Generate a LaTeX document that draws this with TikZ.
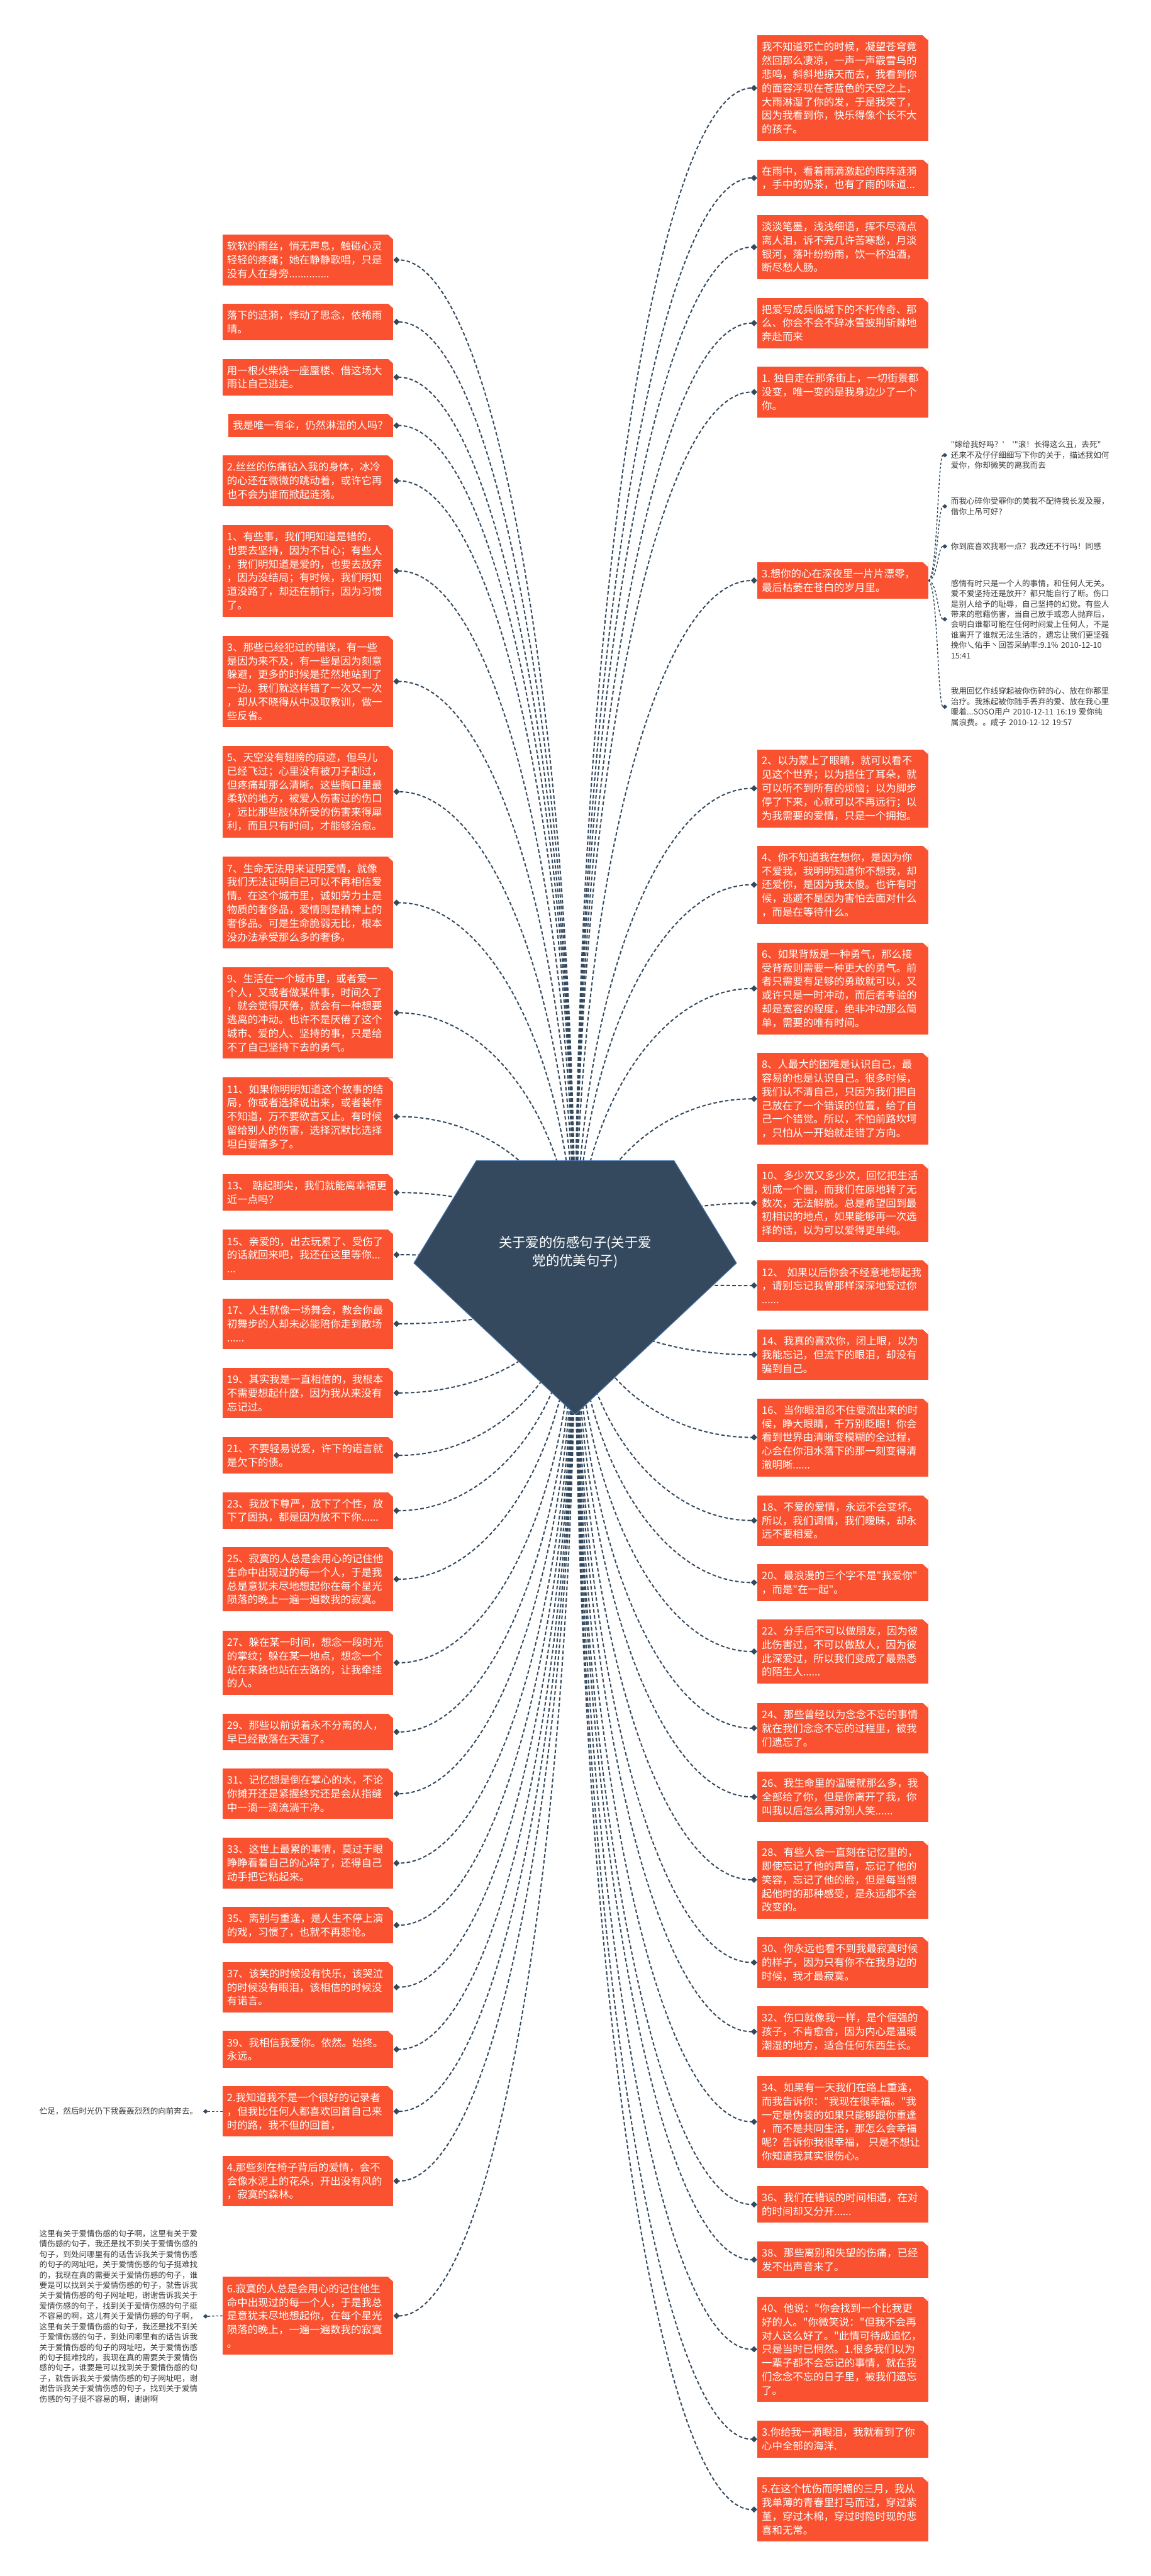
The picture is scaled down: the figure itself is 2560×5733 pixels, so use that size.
\documentclass[tikz,border=0pt]{standalone}
\usepackage{fontspec}
\newfontfamily\cjk{Noto Sans CJK SC}
\usetikzlibrary{arrows.meta,calc}
\pgfdeclarelayer{back}
\pgfsetlayers{back,main}
\definecolor{boxC}{HTML}{FA5230}
\definecolor{lineC}{HTML}{34495E}
\definecolor{rootC}{HTML}{34495E}
\definecolor{rootE}{HTML}{4A78B0}
\definecolor{subC}{HTML}{3A3A3A}
\tikzset{
  mbox/.style={fill=boxC, text=white, font=\cjk\fontsize{23}{30.5}\selectfont, align=left, text width=360pt, inner xsep=10pt, inner ysep=0pt, minimum height={#1*30.5pt+21pt}, anchor=west},
  sbox/.style={font=\cjk\fontsize{17.6}{23}\selectfont, text=subC, align=left, text width=356pt, inner xsep=8pt, inner ysep=0pt},
  conn/.style={draw=lineC, line width=2.8pt, dash pattern=on 8pt off 5pt, -{Diamond[length=14pt,width=14pt]}},
  sconn/.style={draw=lineC, line width=2pt, dash pattern=on 5pt off 4pt, -{Diamond[length=11pt,width=10pt]}},
  rootnode/.style={text=white, font=\cjk\fontsize{30}{40}\selectfont, align=center, inner sep=0pt},
  gem/.style={fill=rootC, draw=rootE, line width=1.5pt},
  cutc/.style={fill=white}
}
\newcommand\mmC[1]{\fill[cutc] ([xshift=-12pt]#1.north east) -- (#1.north east) -- ([yshift=-11pt]#1.north east) -- cycle;}
\newcommand\mmL[4]{\node[mbox=#3] (#1) at (495,#2) {#4};\mmC{#1}}
\newcommand\mmR[4]{\node[mbox=#3] (#1) at (1685,#2) {#4};\mmC{#1}}
% root connectors: quarter ellipse, vertical at the root, horizontal at the child
\newcommand\mmK[2]{\draw[conn] let \p1=(#1), \p2=(#2) in
   (\p1) .. controls (\x1,{\y1+0.5523*(\y2-\y1)}) and ({\x2+0.5523*(\x1-\x2)},\y2) .. (\p2);}
% sub connectors: horizontal S-curve
\newcommand\mmS[2]{\draw[sconn] let \p1=(#1), \p2=(#2) in (\p1) .. controls ({(\x1+\x2)/2},\y1) and ({(\x1+\x2)/2},\y2) .. (\p2);}
\begin{document}
\begin{tikzpicture}[x=1pt,y=-1pt]
\begin{pgfonlayer}{back}
\fill[white] (0,0) rectangle (2560,5733);
\end{pgfonlayer}
\useasboundingbox (0,0) rectangle (2560,5733);
% root
\fill[gem] (1060,2583) -- (1500,2583) -- (1639,2811) -- (1280,3148) -- (921,2811) -- cycle;
\node[rootnode] (root) at (1280,2787) {关于爱的伤感句子(关于爱\\党的优美句子)};
\coordinate (hub) at ([yshift=-55pt]root.center);
% left column
\mmL{L1}{578.5}{3}{软软的雨丝，悄无声息，触碰心灵\\轻轻的疼痛；她在静静歌唱，只是\\没有人在身旁..............}
\mmL{L2}{716.5}{2}{落下的涟漪，悸动了思念，依稀雨\\晴。}
\mmL{L3}{839.5}{2}{用一根火柴烧一座蜃楼、借这场大\\雨让自己逃走。}
\node[mbox=1, text width=347pt] (L4) at (508,947) {我是唯一有伞，仍然淋湿的人吗？};\mmC{L4}
\mmL{L5}{1070}{3}{2.丝丝的伤痛钻入我的身体，冰冷\\的心还在微微的跳动着，或许它再\\也不会为谁而掀起涟漪。}
\mmL{L6}{1270.5}{6}{1、有些事，我们明知道是错的，\\也要去坚持，因为不甘心；有些人\\，我们明知道是爱的，也要去放弃\\，因为没结局；有时候，我们明知\\道没路了，却还在前行，因为习惯\\了。}
\mmL{L7}{1516.5}{6}{3、那些已经犯过的错误，有一些\\是因为来不及，有一些是因为刻意\\躲避，更多的时候是茫然地站到了\\一边。我们就这样错了一次又一次\\，却从不晓得从中汲取教训，做一\\些反省。}
\mmL{L8}{1762}{6}{5、天空没有翅膀的痕迹，但鸟儿\\已经飞过；心里没有被刀子割过，\\但疼痛却那么清晰。这些胸口里最\\柔软的地方，被爱人伤害过的伤口\\，远比那些肢体所受的伤害来得犀\\利，而且只有时间，才能够治愈。}
\mmL{L9}{2009}{6}{7、生命无法用来证明爱情，就像\\我们无法证明自己可以不再相信爱\\情。在这个城市里，诚如劳力士是\\物质的奢侈品，爱情则是精神上的\\奢侈品。可是生命脆弱无比，根本\\没办法承受那么多的奢侈。}
\mmL{L10}{2254}{6}{9、生活在一个城市里，或者爱一\\个人，又或者做某件事，时间久了\\，就会觉得厌倦，就会有一种想要\\逃离的冲动。也许不是厌倦了这个\\城市、爱的人、坚持的事，只是给\\不了自己坚持下去的勇气。}
\mmL{L11}{2485}{5}{11、如果你明明知道这个故事的结\\局，你或者选择说出来，或者装作\\不知道，万不要欲言又止。有时候\\留给别人的伤害，选择沉默比选择\\坦白要痛多了。}
\mmL{L12}{2654}{2}{13、~踮起脚尖，我们就能离幸福更\\近一点吗？}
\mmL{L13}{2792.5}{3}{15、亲爱的，出去玩累了、受伤了\\的话就回来吧，我还在这里等你...\\...}
\mmL{L14}{2946}{3}{17、人生就像一场舞会，教会你最\\初舞步的人却未必能陪你走到散场\\......}
\mmL{L15}{3100}{3}{19、其实我是一直相信的，我根本\\不需要想起什麼，因为我从来没有\\忘记过。}
\mmL{L16}{3239}{2}{21、不要轻易说爱，许下的诺言就\\是欠下的债。}
\mmL{L17}{3362}{2}{23、我放下尊严，放下了个性，放\\下了固执，都是因为放不下你......}
\mmL{L18}{3514.5}{4}{25、寂寞的人总是会用心的记住他\\生命中出现过的每一个人，于是我\\总是意犹未尽地想起你在每个星光\\陨落的晚上一遍一遍数我的寂寞。}
\mmL{L19}{3700.5}{4}{27、躲在某一时间，想念一段时光\\的掌纹；躲在某一地点，想念一个\\站在来路也站在去路的，让我牵挂\\的人。}
\mmL{L20}{3854.5}{2}{29、那些以前说着永不分离的人，\\早已经散落在天涯了。}
\mmL{L21}{3992}{3}{31、记忆想是倒在掌心的水，不论\\你摊开还是紧握终究还是会从指缝\\中一滴一滴流淌干净。}
\mmL{L22}{4146.5}{3}{33、这世上最累的事情，莫过于眼\\睁睁看着自己的心碎了，还得自己\\动手把它粘起来。}
\mmL{L23}{4284.5}{2}{35、离别与重逢，是人生不停上演\\的戏，习惯了，也就不再悲怆。}
\mmL{L24}{4422.5}{3}{37、该笑的时候没有快乐，该哭泣\\的时候没有眼泪，该相信的时候没\\有诺言。}
\mmL{L25}{4561}{2}{39、我相信我爱你。依然。始终。\\永远。}
\mmL{L26}{4699}{3}{2.我知道我不是一个很好的记录者\\，但我比任何人都喜欢回首自己来\\时的路，我不但的回首，}
\mmL{L27}{4854}{3}{4.那些刻在椅子背后的爱情，会不\\会像水泥上的花朵，开出没有风的\\，寂寞的森林。}
\mmL{L28}{5154}{5}{6.寂寞的人总是会用心的记住他生\\命中出现过的每一个人，于是我总\\是意犹未尽地想起你，在每个星光\\陨落的晚上，一遍一遍数我的寂寞\\。}
% right column
\mmR{R1}{196}{7}{我不知道死亡的时候，凝望苍穹竟\\然回那么凄凉，一声一声霰雪鸟的\\悲鸣，斜斜地掠天而去，我看到你\\的面容浮现在苍蓝色的天空之上，\\大雨淋湿了你的发，于是我笑了，\\因为我看到你，快乐得像个长不大\\的孩子。}
\mmR{R2}{396}{2}{在雨中，看着雨滴激起的阵阵涟漪\\，手中的奶茶，也有了雨的味道...}
\mmR{R3}{550}{4}{淡淡笔墨，浅浅细语，挥不尽滴点\\离人泪，诉不完几许苦寒愁，月淡\\银河，落叶纷纷雨，饮一杯浊酒，\\断尽愁人肠。}
\mmR{R4}{719}{3}{把爱写成兵临城下的不朽传奇、那\\么、你会不会不辞冰雪披荆斩棘地\\奔赴而来}
\mmR{R5}{872.5}{3}{1.~独自走在那条街上，一切街景都\\没变，唯一变的是我身边少了一个\\你。}
\mmR{R6}{1292}{2}{3.想你的心在深夜里一片片漂零，\\最后枯萎在苍白的岁月里。}
\mmR{R7}{1754.5}{5}{2、以为蒙上了眼睛，就可以看不\\见这个世界；以为捂住了耳朵，就\\可以听不到所有的烦恼；以为脚步\\停了下来，心就可以不再远行；以\\为我需要的爱情，只是一个拥抱。}
\mmR{R8}{1969}{5}{4、你不知道我在想你，是因为你\\不爱我，我明明知道你不想我，却\\还爱你，是因为我太傻。也许有时\\候，逃避不是因为害怕去面对什么\\，而是在等待什么。}
\mmR{R9}{2200}{6}{6、如果背叛是一种勇气，那么接\\受背叛则需要一种更大的勇气。前\\者只需要有足够的勇敢就可以，又\\或许只是一时冲动，而后者考验的\\却是宽容的程度，绝非冲动那么简\\单，需要的唯有时间。}
\mmR{R10}{2445.5}{6}{8、人最大的困难是认识自己，最\\容易的也是认识自己。很多时候，\\我们认不清自己，只因为我们把自\\己放在了一个错误的位置，给了自\\己一个错觉。所以，不怕前路坎坷\\，只怕从一开始就走错了方向。}
\mmR{R11}{2677.5}{5}{10、多少次又多少次，回忆把生活\\划成一个圈，而我们在原地转了无\\数次，无法解脱。总是希望回到最\\初相识的地点，如果能够再一次选\\择的话，以为可以爱得更单纯。}
\mmR{R12}{2861}{3}{12、~如果以后你会不经意地想起我\\，请别忘记我曾那样深深地爱过你\\......}
\mmR{R13}{3015}{3}{14、我真的喜欢你，闭上眼，以为\\我能忘记，但流下的眼泪，却没有\\骗到自己。}
\mmR{R14}{3199}{5}{16、当你眼泪忍不住要流出来的时\\候，睁大眼睛，千万别眨眼！你会\\看到世界由清晰变模糊的全过程，\\心会在你泪水落下的那一刻变得清\\澈明晰......}
\mmR{R15}{3384}{3}{18、不爱的爱情，永远不会变坏。\\所以，我们调情，我们暧昧，却永\\远不要相爱。}
\mmR{R16}{3522}{2}{20、最浪漫的三个字不是"我爱你"\\，而是"在一起"。}
\mmR{R17}{3675.5}{4}{22、分手后不可以做朋友，因为彼\\此伤害过，不可以做敌人，因为彼\\此深爱过，所以我们变成了最熟悉\\的陌生人......}
\mmR{R18}{3846}{3}{24、那些曾经以为念念不忘的事情\\就在我们念念不忘的过程里，被我\\们遗忘了。}
\mmR{R19}{3999}{3}{26、我生命里的温暖就那么多，我\\全部给了你，但是你离开了我，你\\叫我以后怎么再对别人笑......}
\mmR{R20}{4183.5}{5}{28、有些人会一直刻在记忆里的，\\即使忘记了他的声音，忘记了他的\\笑容，忘记了他的脸，但是每当想\\起他时的那种感受，是永远都不会\\改变的。}
\mmR{R21}{4367.5}{3}{30、你永远也看不到我最寂寞时候\\的样子，因为只有你不在我身边的\\时候，我才最寂寞。}
\mmR{R22}{4521.5}{3}{32、伤口就像我一样，是个倔强的\\孩子，不肯愈合，因为内心是温暖\\潮湿的地方，适合任何东西生长。}
\mmR{R23}{4722}{6}{34、如果有一天我们在路上重逢，\\而我告诉你："我现在很幸福。"我\\一定是伪装的如果只能够跟你重逢\\，而不是共同生活，那怎么会幸福\\呢？告诉你我很幸福，~只是不想让\\你知道我其实很伤心。}
\mmR{R24}{4906}{2}{36、我们在错误的时间相遇，在对\\的时间却又分开......}
\mmR{R25}{5029}{2}{38、那些离别和失望的伤痛，已经\\发不出声音来了。}
\mmR{R26}{5228.5}{7}{40、他说："你会找到一个比我更\\好的人。"你微笑说："但我不会再\\对人这么好了。"此情可待成追忆，\\只是当时已惘然。1.很多我们以为\\一辈子都不会忘记的事情，就在我\\们念念不忘的日子里，被我们遗忘\\了。}
\mmR{R27}{5428.5}{2}{3.你给我一滴眼泪，我就看到了你\\心中全部的海洋.}
\mmR{R28}{5585}{4}{5.在这个忧伤而明媚的三月，我从\\我单薄的青春里打马而过，穿过紫\\堇，穿过木棉，穿过时隐时现的悲\\喜和无常。}
% second level, right of R6
\node[sbox, anchor=west] (C1) at (2108,1013) {"嫁给我好吗？'\quad'"滚！长得这么丑，去死"\\还来不及仔仔细细写下你的关于，描述我如何\\爱你，你却微笑的离我而去};
\node[sbox, anchor=west] (C2) at (2108,1127) {而我心碎你受罪你的美我不配待我长发及腰，\\借你上吊可好？};
\node[sbox, anchor=west] (C3) at (2108,1216) {你到底喜欢我哪一点？我改还不行吗！同感};
\node[sbox, anchor=west] (C4) at (2108,1378) {感情有时只是一个人的事情，和任何人无关。\\爱不爱坚持还是放开？都只能自行了断。伤口\\是别人给予的耻辱，自己坚持的幻觉。有些人\\带来的慰藉伤害，当自己放手或恋人抛弃后，\\会明白谁都可能在任何时间爱上任何人，不是\\谁离开了谁就无法生活的，遗忘让我们更坚强\\挽你乀佑手丶回答采纳率:9.1\%~2010-12-10\\15:41};
\node[sbox, anchor=west] (C5) at (2108,1573) {我用回忆作线穿起被你伤碎的心、放在你那里\\治疗。我拣起被你随手丢弃的爱、放在我心里\\暖着...SOSO用户~2010-12-11~16:19~爱你纯\\属浪费。。咸子~2010-12-12~19:57};
% second level, left
\node[sbox, anchor=east] (F1) at (452,4699) {伫足，然后时光仍下我轰轰烈烈的向前奔去。};
\node[sbox, anchor=east] (F2) at (452,5155) {这里有关于爱情伤感的句子啊，这里有关于爱\\情伤感的句子，我还是找不到关于爱情伤感的\\句子，到处问哪里有的话告诉我关于爱情伤感\\的句子的网址吧，关于爱情伤感的句子挺难找\\的，我现在真的需要关于爱情伤感的句子，谁\\要是可以找到关于爱情伤感的句子，就告诉我\\关于爱情伤感的句子网址吧，谢谢告诉我关于\\爱情伤感的句子，找到关于爱情伤感的句子挺\\不容易的啊，这儿有关于爱情伤感的句子啊，\\这里有关于爱情伤感的句子，我还是找不到关\\于爱情伤感的句子，到处问哪里有的话告诉我\\关于爱情伤感的句子的网址吧，关于爱情伤感\\的句子挺难找的，我现在真的需要关于爱情伤\\感的句子，谁要是可以找到关于爱情伤感的句\\子，就告诉我关于爱情伤感的句子网址吧，谢\\谢告诉我关于爱情伤感的句子，找到关于爱情\\伤感的句子挺不容易的啊，谢谢啊};
% connectors
\begin{pgfonlayer}{back}
\foreach \ii in {L1,L2,L3,L4,L5,L6,L7,L8,L9,L10,L11,L12,L13,L14,L15,L16,L17,L18,L19,L20,L21,L22,L23,L24,L25,L26,L27,L28}{\mmK{hub}{\ii.east}}
\foreach \ii in {R1,R2,R3,R4,R5,R6,R7,R8,R9,R10,R11,R12,R13,R14,R15,R16,R17,R18,R19,R20,R21,R22,R23,R24,R25,R26,R27,R28}{\mmK{hub}{\ii.west}}
\foreach \ii in {C1,C2,C3,C4,C5}{\mmS{R6.east}{\ii.west}}
\mmS{L26.west}{F1.east}
\mmS{L28.west}{F2.east}
\end{pgfonlayer}
\end{tikzpicture}
\end{document}
